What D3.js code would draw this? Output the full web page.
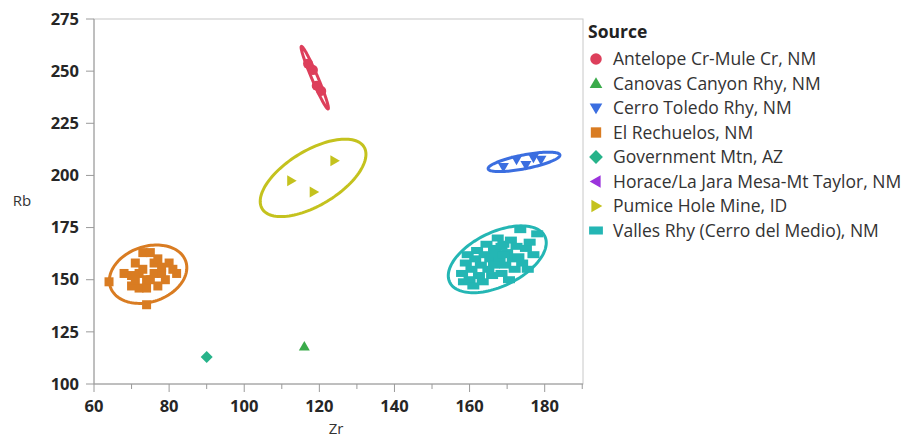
<!DOCTYPE html>
<html lang="en">
<head>
  <meta charset="UTF-8" />
  <title>Rb vs Zr by Source</title>
  <script src="https://d3js.org/d3.v7.min.js"></script>
  <style>
    body {
      margin: 0;
      background: #fff;
      font-family: 'Open Sans', 'Noto Sans', sans-serif;
    }
    .tick-label {
      font-size: 16.5px;
      font-weight: bold;
      fill: #262626;
    }
    .axis-title {
      font-size: 15px;
      fill: #333;
    }
    .legend text {
      font-size: 17.5px;
      fill: #333;
    }
  </style>
</head>
<body>
  <svg id="chart" width="907" height="438"></svg>

  <script>
    // Source names, colours and marker shapes
    const sources = [
      "Antelope Cr-Mule Cr, NM",
      "Canovas Canyon Rhy, NM",
      "Cerro Toledo Rhy, NM",
      "El Rechuelos, NM",
      "Government Mtn, AZ",
      "Horace/La Jara Mesa-Mt Taylor, NM",
      "Pumice Hole Mine, ID",
      "Valles Rhy (Cerro del Medio), NM"
    ];
    const colors = ["#dd3f5b", "#3aab4a", "#3b6ee0", "#d97c22", "#27b38a", "#9b33dc", "#c4c21e", "#24b6b4"];
    const shapes = ["circle", "up", "down", "square", "diamond", "left", "right", "rect"];

    // [Zr, Rb] pairs per source
    const antelope = [[117, 253.5], [118.3, 250.5], [119.3, 243], [120.5, 240.5]];
    const canovas = [[116, 118]];
    const cerroToledo = [[169, 204], [172.5, 207.5], [175, 205], [177, 208.5], [179, 207.5]];
    const elRechuelos = [
      [64, 149], [68, 153], [70, 152], [71, 158], [72, 146], [73, 163], [74, 150], [74, 146],
      [75, 163], [76, 153], [77, 147], [78, 153], [80, 158], [82, 153], [74, 138], [72, 153],
      [76, 158], [79, 150], [73, 155], [77, 160], [70, 147], [75, 150], [78, 156], [71, 150], [81, 155]
    ];
    const governmentMtn = [[90, 113]];
    const horace = [];
    const pumiceHole = [[112.5, 197.5], [118.5, 192], [124, 207]];
    const valles = [
      [158, 153], [158.5, 149], [159, 158], [159.5, 162], [160, 150], [160.5, 155], [161, 147],
      [161.5, 160], [162, 164], [162.5, 152], [163, 157], [163.5, 149], [164, 162], [164.5, 167],
      [165, 155], [165.5, 160], [166, 152], [166.5, 165], [167, 158], [167.5, 170], [168, 162],
      [168.5, 153], [169, 167], [169.5, 157], [170, 163], [170.5, 150], [171, 169], [171.5, 160],
      [172, 155], [172.5, 166], [173, 161], [173.5, 174], [174, 158], [175, 165], [175.5, 155],
      [176, 168], [177, 162], [178, 172], [166, 161], [168, 159], [167, 164], [169, 162],
      [166.5, 157], [168.5, 166]
    ];
    const groups = [antelope, canovas, cerroToledo, elRechuelos, governmentMtn, horace, pumiceHole, valles];

    const xTicks = [60, 80, 100, 120, 140, 160, 180];
    const xMinorTicks = [70, 90, 110, 130, 150, 170, 190];
    const yTicks = [100, 125, 150, 175, 200, 225, 250, 275];

    const svg = d3.select("#chart");
    const plot = { left: 94, right: 583, top: 19, bottom: 384 };

    const x = d3.scaleLinear().domain([60, 190.2]).range([plot.left, plot.right]);
    const y = d3.scaleLinear().domain([100, 275]).range([plot.bottom, plot.top]);

    // marker path for each shape, centred on 0,0
    function markerPath(shape, s) {
      const p = d3.path();
      switch (shape) {
        case "circle": p.arc(0, 0, 5 * s, 0, 2 * Math.PI); break;
        case "up": p.moveTo(0, -5.5 * s); p.lineTo(5.5 * s, 4 * s); p.lineTo(-5.5 * s, 4 * s); break;
        case "down": p.moveTo(0, 5.5 * s); p.lineTo(5.5 * s, -4 * s); p.lineTo(-5.5 * s, -4 * s); break;
        case "square": p.rect(-4.5 * s, -4.5 * s, 9 * s, 9 * s); break;
        case "diamond": p.moveTo(0, -6 * s); p.lineTo(6 * s, 0); p.lineTo(0, 6 * s); p.lineTo(-6 * s, 0); break;
        case "left": p.moveTo(-5.5 * s, 0); p.lineTo(4 * s, -5.5 * s); p.lineTo(4 * s, 5.5 * s); break;
        case "right": p.moveTo(5.5 * s, 0); p.lineTo(-4 * s, -5.5 * s); p.lineTo(-4 * s, 5.5 * s); break;
        case "rect": p.rect(-6 * s, -3.5 * s, 12 * s, 7 * s); break;
      }
      p.closePath();
      return p.toString();
    }

    // frame
    svg.append("rect")
      .attr("x", plot.left).attr("y", plot.top)
      .attr("width", plot.right - plot.left).attr("height", plot.bottom - plot.top)
      .attr("fill", "none").attr("stroke", "#c8c8c8").attr("stroke-width", 1);

    // y axis
    const yAxis = svg.append("g").attr("transform", `translate(${plot.left},0)`);
    yAxis.append("line")
      .attr("x1", 0).attr("x2", 0).attr("y1", plot.top).attr("y2", plot.bottom)
      .attr("stroke", "#9a9a9a");
    yTicks.forEach(t => {
      yAxis.append("line")
        .attr("x1", -8).attr("x2", 0).attr("y1", y(t)).attr("y2", y(t))
        .attr("stroke", "#9a9a9a");
      yAxis.append("text")
        .attr("class", "tick-label")
        .attr("x", -15).attr("y", y(t)).attr("dy", "0.35em")
        .attr("text-anchor", "end")
        .text(t);
    });

    // x axis
    const xAxis = svg.append("g").attr("transform", `translate(0,${plot.bottom})`);
    xAxis.append("line")
      .attr("x1", plot.left).attr("x2", plot.right).attr("y1", 0).attr("y2", 0)
      .attr("stroke", "#9a9a9a");
    xTicks.forEach(t => {
      xAxis.append("line")
        .attr("x1", x(t)).attr("x2", x(t)).attr("y1", 0).attr("y2", 8)
        .attr("stroke", "#9a9a9a");
      xAxis.append("text")
        .attr("class", "tick-label")
        .attr("x", x(t)).attr("y", 28)
        .attr("text-anchor", "middle")
        .text(t);
    });
    xMinorTicks.forEach(t => {
      xAxis.append("line")
        .attr("x1", x(t)).attr("x2", x(t)).attr("y1", 0).attr("y2", 5)
        .attr("stroke", "#9a9a9a");
    });

    svg.append("text").attr("class", "axis-title")
      .attr("x", 336).attr("y", 434)
      .attr("text-anchor", "middle").text("Zr");
    svg.append("text").attr("class", "axis-title")
      .attr("x", 22).attr("y", 206)
      .attr("text-anchor", "middle").text("Rb");

    // 95% density ellipse from the sample mean and covariance
    const k = Math.sqrt(5.991);
    function ellipsePoints(pts) {
      const n = pts.length;
      const mx = d3.mean(pts, d => d[0]), my = d3.mean(pts, d => d[1]);
      let sxx = 0, syy = 0, sxy = 0;
      pts.forEach(([a, b]) => {
        sxx += (a - mx) * (a - mx); syy += (b - my) * (b - my); sxy += (a - mx) * (b - my);
      });
      sxx /= n - 1; syy /= n - 1; sxy /= n - 1;
      const tr = sxx + syy, det = sxx * syy - sxy * sxy;
      const disc = Math.sqrt(Math.max(0, tr * tr / 4 - det));
      const l1 = tr / 2 + disc, l2 = Math.max(0, tr / 2 - disc);
      let ex = sxy, ey = l1 - sxx;
      if (Math.abs(ex) < 1e-12 && Math.abs(ey) < 1e-12) { ex = sxx >= syy ? 1 : 0; ey = sxx >= syy ? 0 : 1; }
      const len = Math.hypot(ex, ey);
      ex /= len; ey /= len;
      return d3.range(0, 120).map(i => {
        const t = i / 120 * 2 * Math.PI;
        const a = k * Math.sqrt(l1) * Math.cos(t), b = k * Math.sqrt(l2) * Math.sin(t);
        return [x(mx + a * ex - b * ey), y(my + a * ey + b * ex)];
      });
    }

    const line = d3.line().curve(d3.curveLinearClosed);
    groups.forEach((pts, i) => {
      if (pts.length < 3) return;
      svg.append("path")
        .attr("d", line(ellipsePoints(pts)))
        .attr("fill", "none")
        .attr("stroke", colors[i])
        .attr("stroke-width", 3);
    });

    // points
    groups.forEach((pts, i) => {
      svg.append("g").selectAll("path")
        .data(pts)
        .join("path")
        .attr("transform", d => `translate(${x(d[0])},${y(d[1])})`)
        .attr("d", markerPath(shapes[i], 1))
        .attr("fill", colors[i]);
    });

    // legend
    const legend = svg.append("g").attr("class", "legend");
    legend.append("text")
      .attr("x", 588).attr("y", 38)
      .style("font-weight", "bold")
      .style("fill", "#222")
      .text("Source");
    sources.forEach((s, i) => {
      const ly = 59 + i * 24.5;
      legend.append("path")
        .attr("transform", `translate(596,${ly})`)
        .attr("d", markerPath(shapes[i], 1.15))
        .attr("fill", colors[i]);
      legend.append("text")
        .attr("x", 613).attr("y", ly).attr("dy", "0.35em")
        .text(s);
    });
  </script>
</body>
</html>
